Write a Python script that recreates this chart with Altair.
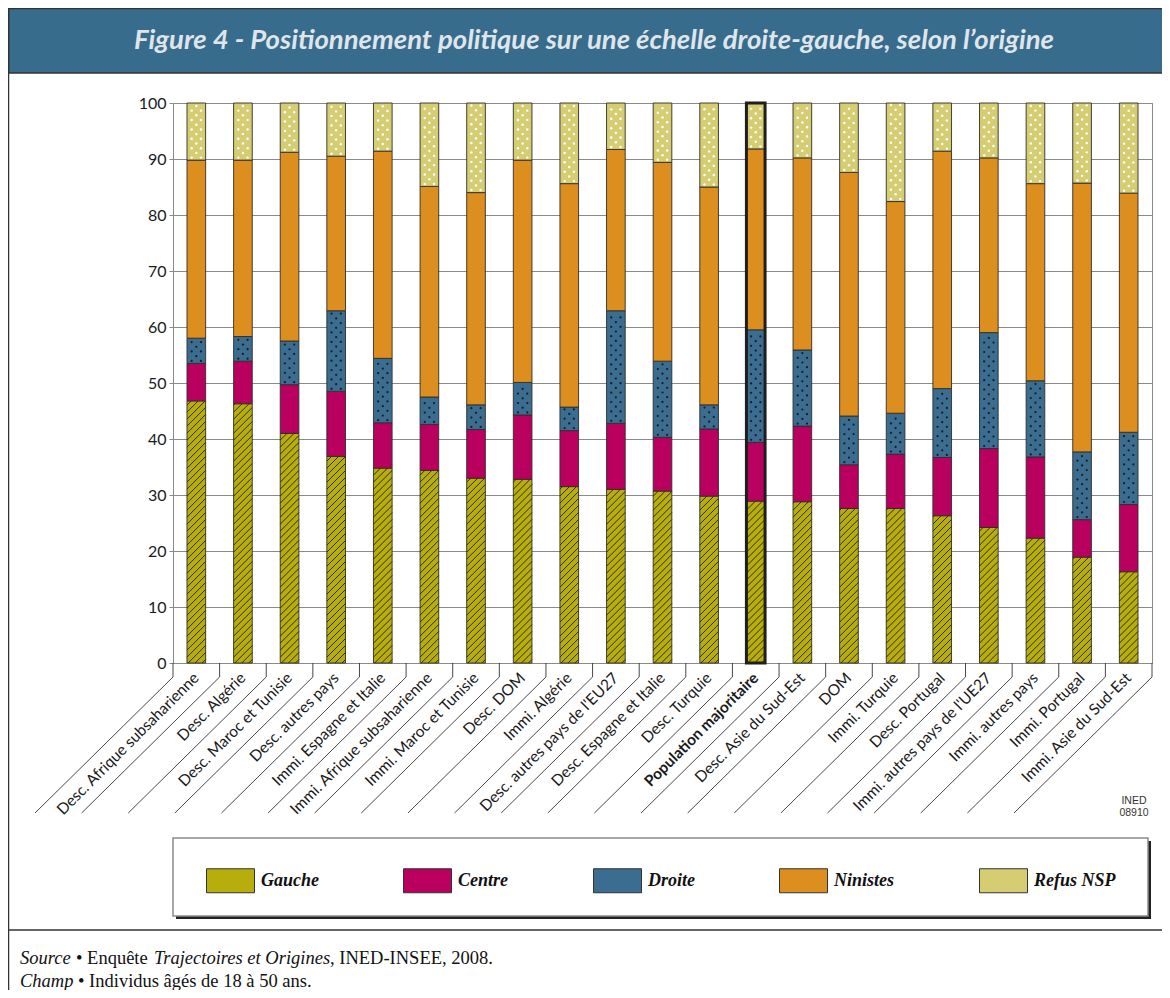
import altair as alt
import pandas as pd

# ---------------- data ----------------
cats = ["Desc. Afrique subsaharienne", "Desc. Algérie", "Desc. Maroc et Tunisie", "Desc. autres pays",
        "Immi. Espagne et Italie", "Immi. Afrique subsaharienne", "Immi. Maroc et Tunisie", "Desc. DOM",
        "Immi. Algérie", "Desc. autres pays de l'EU27", "Desc. Espagne et Italie", "Desc. Turquie",
        "Population majoritaire", "Desc. Asie du Sud-Est", "DOM", "Immi. Turquie", "Desc. Portugal",
        "Immi. autres pays de l'UE27", "Immi. autres pays", "Immi. Portugal", "Immi. Asie du Sud-Est"]
series = ["Gauche", "Centre", "Droite", "Ninistes", "Refus NSP"]
colors = ["#b7ae0c", "#b9005f", "#3b6d90", "#dc8e1f", "#d5cd72"]

gauche = [46.8, 46.3, 41.0, 36.9, 34.8, 34.4, 33.0, 32.8, 31.5, 31.0, 30.7, 29.8, 28.9, 28.8, 27.6, 27.6, 26.3, 24.2, 22.3, 18.9, 16.3]
centre = [6.7, 7.6, 8.7, 11.6, 8.1, 8.2, 8.7, 11.5, 10.0, 11.8, 9.6, 12.0, 10.5, 13.5, 7.8, 9.7, 10.4, 14.1, 14.5, 6.7, 12.0]
droite = [4.5, 4.4, 7.8, 14.4, 11.5, 4.9, 4.4, 5.8, 4.2, 20.1, 13.6, 4.3, 20.1, 13.6, 8.7, 7.3, 12.3, 20.7, 13.6, 12.1, 12.9]
ninistes = [31.8, 31.5, 33.7, 27.6, 37.0, 37.6, 37.9, 39.7, 39.9, 28.8, 35.5, 38.9, 32.3, 34.3, 43.5, 37.8, 42.4, 31.2, 35.2, 48.0, 42.7]
refus = [10.2, 10.2, 8.8, 9.5, 8.6, 14.9, 16.0, 10.2, 14.4, 8.3, 10.6, 15.0, 8.2, 9.8, 12.4, 17.6, 8.6, 9.8, 14.4, 14.3, 16.1]
highlight = "Population majoritaire"

title_text = "Figure 4 - Positionnement politique sur une échelle droite-gauche, selon l’origine"

# ---------------- layout ----------------
W, H = 979, 560
PAD = {"left": 165, "top": 95, "right": 10, "bottom": 327}
n = len(cats)
P_IN, P_OUT = 0.6, 0.3
step_px = W / n
bar_frac = 1 - P_IN
px_per_unit = H / 100.0

rows = []
vals = [gauche, centre, droite, ninistes, refus]
for i, c in enumerate(cats):
    for k, s in enumerate(series):
        rows.append({"cat": c, "serie": s, "value": vals[k][i], "ord": k})
df = pd.DataFrame(rows)

# hatch lines for "Gauche" (decoration derived from the data)
rise = step_px * bar_frac / px_per_unit
spacing = 7.0 / px_per_unit
hatch = []
for i, g in enumerate(gauche):
    xl = i + P_OUT
    y0 = -rise + spacing * 0.5
    while y0 < g:
        t0 = max(0.0, -y0 / rise)
        t1 = min(1.0, (g - y0) / rise)
        if t1 > t0:
            hatch.append({"xa": xl + t0 * bar_frac, "ya": y0 + t0 * rise,
                          "xb": xl + t1 * bar_frac, "yb": y0 + t1 * rise})
        y0 += spacing
df_hatch = pd.DataFrame(hatch)

def dot_rows(bottoms, tops):
    out = []
    dy = 4.7 / px_per_unit
    off = 4.65 / step_px
    for i in range(n):
        y = bottoms[i] + 0.45
        r = 0
        while y < tops[i] - 0.35:
            offs = [-off, off] if r % 2 == 0 else [0.0]
            for o in offs:
                out.append({"xq": i + 0.5 + o, "yq": y})
            y += dy
            r += 1
    return pd.DataFrame(out)

d_bot = [gauche[i] + centre[i] for i in range(n)]
d_top = [d_bot[i] + droite[i] for i in range(n)]
r_bot = [d_top[i] + ninistes[i] for i in range(n)]
r_top = [100.0] * n
df_dark = dot_rows(d_bot, d_top)
df_white = dot_rows(r_bot, r_top)

df_k = pd.DataFrame({"k": list(range(n + 1))})
one = pd.DataFrame({"d": [0]})

yscale = alt.Scale(domain=[0, 100], nice=False)
xq_scale = alt.Scale(domain=[0, n], nice=False, zero=False)
xb_scale = alt.Scale(domain=cats, paddingInner=P_IN, paddingOuter=P_OUT)

# ---------------- main bars ----------------
bars = alt.Chart(df).mark_bar(stroke="#2e2e2e", strokeWidth=0.9).encode(
    x=alt.X("cat:N", scale=xb_scale, title=None,
            axis=alt.Axis(labelAngle=-45, labelAlign="right", labelBaseline="middle",
                          labelPadding=12, ticks=False, domain=False, labelFont="Lato",
                          labelFontSize=15.5, labelColor="#1a1a1a", labelLimit=0,
                          labelOverlap=False,
                          labelFontWeight={"condition": {"test": "datum.value === 'Population majoritaire'",
                                                         "value": "bold"}, "value": "normal"})),
    y=alt.Y("value:Q", stack="zero", scale=yscale, title=None,
            axis=alt.Axis(values=list(range(0, 101, 10)), labelFont="Lato", labelFontSize=16,
                          labelColor="#1a1a1a", tickSize=4, tickColor="#8a8a8a", domain=False,
                          grid=True, gridColor="#8a8a8a", gridWidth=1, labelPadding=3)),
    color=alt.Color("serie:N", scale=alt.Scale(domain=series, range=colors),
                    legend=alt.Legend(title=None, orient="none", legendX=33, legendY=753,
                                      direction="horizontal", columns=5,
                                      symbolType="M-1,-0.5H1V0.5H-1Z", symbolSize=2304,
                                      symbolStrokeColor="#333333", symbolStrokeWidth=1,
                                      symbolOpacity=1,
                                      labelFont="Liberation Serif", labelFontStyle="italic",
                                      labelFontWeight="bold", labelFontSize=18, labelColor="#111111",
                                      labelOffset=6, columnPadding=82, padding=0)),
    order=alt.Order("ord:Q", sort="ascending"),
)

outline = alt.Chart(df).transform_filter(alt.datum.cat == highlight).mark_bar(
    fillOpacity=0, stroke="#1e1e1e", strokeWidth=3).encode(
    x=alt.X("cat:N", scale=xb_scale, axis=None),
    y=alt.Y("sum(value):Q", scale=yscale, title=None),
)

hatch_l = alt.Chart(df_hatch).mark_rule(color="#2e2b08", strokeWidth=1).encode(
    x=alt.X("xa:Q", scale=xq_scale, axis=None), x2="xb:Q",
    y=alt.Y("ya:Q", scale=yscale, title=None), y2="yb:Q")

dots_dark = alt.Chart(df_dark).mark_circle(size=5, color="#1c1c1c", opacity=1).encode(
    x=alt.X("xq:Q", scale=xq_scale, axis=None),
    y=alt.Y("yq:Q", scale=yscale, title=None))

dots_white = alt.Chart(df_white).mark_circle(size=6, color="#ffffff", opacity=1).encode(
    x=alt.X("xq:Q", scale=xq_scale, axis=None),
    y=alt.Y("yq:Q", scale=yscale, title=None))

ticks_l = alt.Chart(df_k).mark_rule(color="#333333", strokeWidth=0.9).encode(
    x=alt.X("k:Q", scale=xq_scale, axis=None),
    y=alt.value(H), y2=alt.value(H + 14))

diag_l = alt.Chart(df_k).mark_rule(color="#333333", strokeWidth=0.9, x2Offset=-138).encode(
    x=alt.X("k:Q", scale=xq_scale, axis=None), x2="k:Q",
    y=alt.value(H + 14), y2=alt.value(H + 150))

# ---------------- decorations ----------------
header = alt.Chart(one).mark_rect(fill="#386c8d", stroke="#333333", strokeWidth=1.5).encode(
    x=alt.value(-164.5), x2=alt.value(1010), y=alt.value(-94.5), y2=alt.value(-30))
title = alt.Chart(one).mark_text(font="Lato", fontSize=27.5, fontStyle="italic", fontWeight="bold",
                                 color="#dfe5ea", align="center", baseline="middle").encode(
    x=alt.value(421), y=alt.value(-62), text=alt.value(title_text))
left_border = alt.Chart(one).mark_rule(color="#333333", strokeWidth=1.5).encode(
    x=alt.value(-164.5), y=alt.value(-95), y2=alt.value(H + PAD["bottom"]))
footer_sep = alt.Chart(one).mark_rule(color="#333333", strokeWidth=1.5).encode(
    x=alt.value(-165), x2=alt.value(1000), y=alt.value(827))

foot_pieces = [
    ("Source", "italic", -153, 861),
    ("• Enquête", "normal", -97, 861),
    ("Trajectoires et Origines", "italic", -19, 861),
    (", INED-INSEE, 2008.", "normal", 157, 861),
    ("Champ", "italic", -153, 884),
    ("• Individus âgés de 18 à 50 ans.", "normal", -95, 884),
]
foot_layers = []
for txt, style, fx, fy in foot_pieces:
    foot_layers.append(alt.Chart(one).mark_text(font="Liberation Serif", fontSize=18.5, fontStyle=style,
                                                color="#111111", align="left", baseline="alphabetic").encode(
        x=alt.value(fx), y=alt.value(fy), text=alt.value(txt)))

ined = alt.Chart(one).mark_text(font="Liberation Sans", fontSize=10.5, color="#333333", align="center",
                                baseline="middle", lineHeight=12).encode(
    x=alt.value(961), y=alt.value(698), text=alt.value(["INED", "08910"]))

leg_shadow = alt.Chart(one).mark_rect(fill="#222222").encode(
    x=alt.value(3), x2=alt.value(978), y=alt.value(738), y2=alt.value(816))
leg_box = alt.Chart(one).mark_rect(fill="#ffffff", stroke="#8a8a8a", strokeWidth=1.5).encode(
    x=alt.value(0), x2=alt.value(975), y=alt.value(735), y2=alt.value(813))

chart = alt.layer(
    header, title, left_border, footer_sep, *foot_layers, ined, leg_shadow, leg_box,
    bars, outline, hatch_l, dots_dark, dots_white, ticks_l, diag_l
).resolve_scale(x="independent").properties(
    width=W, height=H,
    autosize=alt.AutoSizeParams(type="none"),
    padding=PAD,
    background="#ffffff",
).configure_view(stroke="#8a8a8a", strokeWidth=1)

chart.save("out.html", embed_options={"renderer": "svg", "actions": False})
